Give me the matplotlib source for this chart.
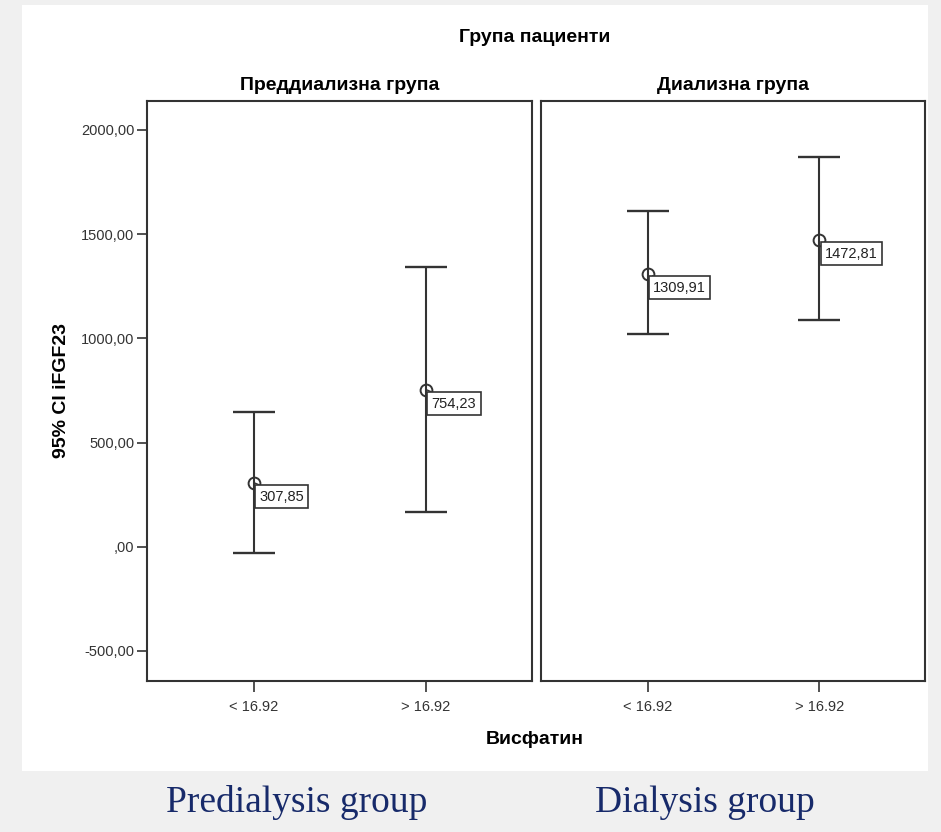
import matplotlib.pyplot as plt
from matplotlib.patches import Rectangle

plt.rcParams['font.family'] = ['Liberation Sans', 'DejaVu Sans']

# Средни стойности и 95% CI на iFGF23 по групи
categories = ['< 16.92', '> 16.92']
panel_titles = ['Преддиализна група', 'Диализна група']
bottom_labels = ['Predialysis group', 'Dialysis group']
means = [[307.85, 754.23], [1309.91, 1472.81]]
ci_low = [[-29, 168], [1019, 1087]]
ci_high = [[649, 1341], [1611, 1870]]
yticks = [-500, 0, 500, 1000, 1500, 2000]

fig = plt.figure(figsize=(9.41, 8.32), dpi=100, facecolor='#f0f0f0')
# бял фон зад графиката
fig.patches.append(Rectangle((22 / 941, 1 - 771 / 832), 906 / 941, 766 / 832,
                             transform=fig.transFigure, facecolor='white',
                             edgecolor='none', zorder=-10))

line_col = '#333333'
positions = [[147, 385], [541, 384]]
for i, (x0, w) in enumerate(positions):
    ax = fig.add_axes([x0 / 941, 1 - 681 / 832, w / 941, 580 / 832])
    ax.set_facecolor('none')
    xs = list(range(len(categories)))
    lo = [m - l for m, l in zip(means[i], ci_low[i])]
    hi = [h - m for m, h in zip(means[i], ci_high[i])]
    ax.errorbar(xs, means[i], yerr=[lo, hi], fmt='none', ecolor=line_col,
                elinewidth=1.5, capsize=15, capthick=1.7)
    ax.plot(xs, means[i], 'o', mfc='none', mec=line_col, mew=1.4, ms=8.5, zorder=3)
    for x, m in zip(xs, means[i]):
        ax.annotate(f'{m:.2f}'.replace('.', ','), xy=(x, m), xytext=(4, -5),
                    textcoords='offset points', ha='left', va='top', fontsize=10.5,
                    color='#222222',
                    bbox=dict(boxstyle='square,pad=0.3', fc='white', ec=line_col, lw=1.2),
                    arrowprops=dict(arrowstyle='-', color=line_col, lw=1.0,
                                    relpos=(0.25, 1.0), shrinkA=0, shrinkB=4))
    ax.set_xlim(-0.62, 1.615)
    ax.set_ylim(-644, 2139)
    ax.set_xticks(xs)
    ax.set_xticklabels(categories, fontsize=10.5, color='#333333')
    ax.tick_params(axis='x', direction='out', length=8, width=1.2, color=line_col, pad=6)
    for sp in ax.spines.values():
        sp.set_color(line_col)
        sp.set_linewidth(1.5)
    ax.set_title(panel_titles[i], fontsize=14, fontweight='bold', pad=8)
    if i == 0:
        ax.set_yticks(yticks)
        ax.set_yticklabels([f'{v:.2f}'.replace('.', ',') if v != 0 else ',00' for v in yticks],
                           fontsize=10.5, color='#333333')
        ax.tick_params(axis='y', direction='out', length=7, width=1.2, color=line_col, pad=2)
        ax.set_ylabel('95% CI iFGF23', fontsize=14, fontweight='bold', labelpad=8)
    else:
        ax.set_yticks([])

fig.text(535 / 941, 1 - 38 / 832, 'Група пациенти', ha='center', va='center',
         fontsize=14, fontweight='bold')
fig.text(535 / 941, 1 - 740 / 832, 'Висфатин', ha='center', va='center',
         fontsize=14, fontweight='bold')

for x, lab in zip([297, 705], bottom_labels):
    fig.text(x / 941, 1 - 803 / 832, lab, ha='center', va='center', fontsize=27,
             family='Liberation Serif', color='#172a6a')

fig.savefig('out.png', dpi=100, facecolor=fig.get_facecolor())
